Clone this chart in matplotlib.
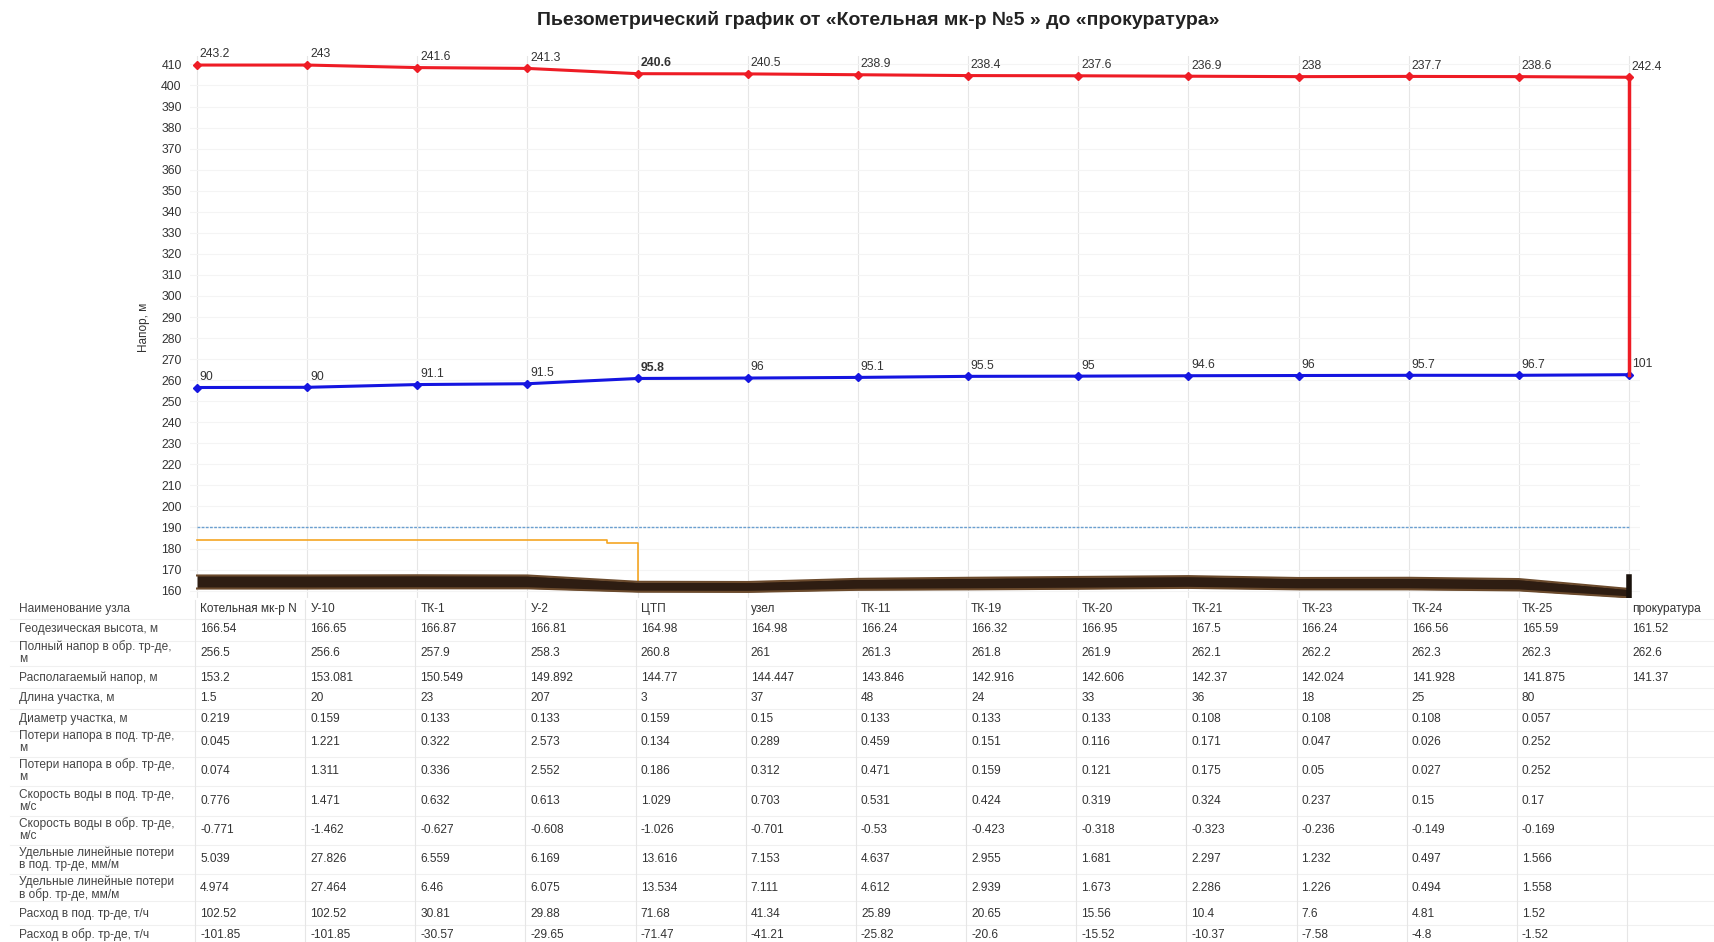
import matplotlib
matplotlib.use('Agg')
import matplotlib.pyplot as plt
from matplotlib.lines import Line2D

plt.rcParams['font.family'] = ['Liberation Sans', 'DejaVu Sans']

# узлы
nodes = ['Котельная мк-р N', 'У-10', 'ТК-1', 'У-2', 'ЦТП', 'узел', 'ТК-11', 'ТК-19',
         'ТК-20', 'ТК-21', 'ТК-23', 'ТК-24', 'ТК-25', 'прокуратура']

# напор в подающем (линия) и подписи давления
head_supply = [409.7, 409.7, 408.5, 408.1, 405.6, 405.5, 405.1, 404.7, 404.6, 404.4,
               404.2, 404.3, 404.2, 403.9]
press_supply = ['243.2', '243', '241.6', '241.3', '240.6', '240.5', '238.9', '238.4',
                '237.6', '236.9', '238', '237.7', '238.6', '242.4']

# обратный
head_return = [256.5, 256.6, 257.9, 258.3, 260.8, 261, 261.3, 261.8, 261.9, 262.1,
               262.2, 262.3, 262.3, 262.6]
press_return = ['90', '90', '91.1', '91.5', '95.8', '96', '95.1', '95.5', '95', '94.6',
                '96', '95.7', '96.7', '101']

geod = [166.54, 166.65, 166.87, 166.81, 164.98, 164.98, 166.24, 166.32, 166.95, 167.5,
        166.24, 166.56, 165.59, 161.52]
ground_top = [167.2, 167.2, 167.3, 167.2, 164.2, 164.1, 165.6, 166.1, 166.5, 166.9,
              166.0, 166.1, 165.5, 160.8]
ground_bot = [161.0, 161.0, 161.1, 161.1, 159.5, 159.4, 160.4, 160.6, 160.9, 161.3,
              160.6, 160.6, 160.1, 156.8]
stub_x = [13, 13]
stub_y = [157.5, 166.5]

# оранжевая линия
orange_x = [0, 3.72, 3.72, 4, 4]
orange_y = [184.2, 184.2, 182.6, 182.6, 163.5]

line_190 = [190, 190]
line_190_x = [0, 13]

avail = ['153.2', '153.081', '150.549', '149.892', '144.77', '144.447', '143.846', '142.916',
         '142.606', '142.37', '142.024', '141.928', '141.875', '141.37']
length = ['1.5', '20', '23', '207', '3', '37', '48', '24', '33', '36', '18', '25', '80', '']
diam = ['0.219', '0.159', '0.133', '0.133', '0.159', '0.15', '0.133', '0.133', '0.133',
        '0.108', '0.108', '0.108', '0.057', '']
loss_s = ['0.045', '1.221', '0.322', '2.573', '0.134', '0.289', '0.459', '0.151', '0.116',
          '0.171', '0.047', '0.026', '0.252', '']
loss_r = ['0.074', '1.311', '0.336', '2.552', '0.186', '0.312', '0.471', '0.159', '0.121',
          '0.175', '0.05', '0.027', '0.252', '']
vel_s = ['0.776', '1.471', '0.632', '0.613', '1.029', '0.703', '0.531', '0.424', '0.319',
         '0.324', '0.237', '0.15', '0.17', '']
vel_r = ['-0.771', '-1.462', '-0.627', '-0.608', '-1.026', '-0.701', '-0.53', '-0.423',
         '-0.318', '-0.323', '-0.236', '-0.149', '-0.169', '']
spec_s = ['5.039', '27.826', '6.559', '6.169', '13.616', '7.153', '4.637', '2.955', '1.681',
          '2.297', '1.232', '0.497', '1.566', '']
spec_r = ['4.974', '27.464', '6.46', '6.075', '13.534', '7.111', '4.612', '2.939', '1.673',
          '2.286', '1.226', '0.494', '1.558', '']
flow_s = ['102.52', '102.52', '30.81', '29.88', '71.68', '41.34', '25.89', '20.65', '15.56',
          '10.4', '7.6', '4.81', '1.52', '']
flow_r = ['-101.85', '-101.85', '-30.57', '-29.65', '-71.47', '-41.21', '-25.82', '-20.6',
          '-15.52', '-10.37', '-7.58', '-4.8', '-1.52', '']

row_labels = ['Наименование узла', 'Геодезическая высота, м', 'Полный напор в обр. тр-де,\nм',
              'Располагаемый напор, м', 'Длина участка, м', 'Диаметр участка, м',
              'Потери напора в под. тр-де,\nм', 'Потери напора в обр. тр-де,\nм',
              'Скорость воды в под. тр-де,\nм/с', 'Скорость воды в обр. тр-де,\nм/с',
              'Удельные линейные потери\nв под. тр-де, мм/м',
              'Удельные линейные потери\nв обр. тр-де, мм/м',
              'Расход в под. тр-де, т/ч', 'Расход в обр. тр-де, т/ч']
rows = [nodes, [f'{v:g}' for v in geod], [f'{v:g}' for v in head_return], avail, length,
        diam, loss_s, loss_r, vel_s, vel_r, spec_s, spec_r, flow_s, flow_r]
row_y = [609, 629, 653, 678, 698, 719, 742, 771, 801, 830, 859, 888, 914, 935]

W, H = 1715, 942
fig = plt.figure(figsize=(W / 100, H / 100), dpi=100)
ax = fig.add_axes([190 / W, 1 - 598 / H, 1450 / W, (598 - 56) / H])

x = list(range(len(nodes)))

ax.plot(orange_x, orange_y, color='#f5a623', lw=1.2, zorder=2)
ax.plot(line_190_x, line_190, color='#6a9fd0', lw=1.0, ls=(0, (2, 1)), zorder=2)

ax.fill_between(x, ground_bot, ground_top, color='#2e1d12', zorder=3, linewidth=0)
ax.plot(x, ground_top, color='#6b4a2c', lw=1.5, zorder=3)
ax.plot(x, ground_bot, color='#6b4a2c', lw=1.5, zorder=3)
ax.plot(stub_x, stub_y, color='#1a120c', lw=4, zorder=3)

ax.plot(x, head_supply, color='#ee1c25', lw=2.2, marker='D', ms=4.5, zorder=4)
ax.plot(x, head_return, color='#1515e0', lw=2.2, marker='D', ms=4.5, zorder=4)
ax.plot([x[-1], x[-1]], [head_supply[-1], head_return[-1]], color='#ee1c25', lw=2.5, zorder=4)

for i in x:
    w = 'bold' if nodes[i] == 'ЦТП' else 'normal'
    ax.annotate(press_supply[i], (i, head_supply[i]), xytext=(2, 5.5), textcoords='offset points',
                fontsize=8.8, color='#333333', fontweight=w)
    ax.annotate(press_return[i], (i, head_return[i]), xytext=(2, 5.5), textcoords='offset points',
                fontsize=8.8, color='#333333', fontweight=w)

ax.set_xlim(-0.064, 13.1)
ax.set_ylim(156.5, 414)
ax.set_yticks(range(160, 411, 10))
ax.set_xticks(x)
ax.set_xticklabels([])
ax.tick_params(length=0, labelsize=8.8, labelcolor='#333333', pad=6)
ax.grid(axis='x', color='#e6e6e6', lw=0.8)
ax.grid(axis='y', color='#f4f4f4', lw=0.8)
ax.set_axisbelow(True)
for s in ax.spines.values():
    s.set_visible(False)
ax.set_ylabel('Напор, м', fontsize=8.5, color='#333333', labelpad=8)

fig.text(0.512, 1 - 20 / H, 'Пьезометрический график от «Котельная мк-р №5 » до «прокуратура»',
         ha='center', va='center', fontsize=14, fontweight='bold', color='#222222')

# таблица под графиком
x_px = lambda v: ax.transData.transform((v, 0))[0] / W
for j, (lab, vals, yy) in enumerate(zip(row_labels, rows, row_y)):
    yf = 1 - yy / H
    fig.text(19 / W, yf, lab, fontsize=8.6, color='#444444', va='center', ha='left', linespacing=1.0)
    for i, v in enumerate(vals):
        fig.text(x_px(i) + 3 / W, yf, v, fontsize=8.6, color='#333333', va='center', ha='left')
    if j < len(row_y) - 1:
        yb = 1 - (yy + row_y[j + 1]) / 2 / H
        fig.add_artist(Line2D([10 / W, 1], [yb, yb], color='#f0f0f0', lw=0.8))
for i in x:
    xf = x_px(i) - 2 / W
    fig.add_artist(Line2D([xf, xf], [1 - 945 / H, 1 - 600 / H], color='#e6e6e6', lw=0.8))

fig.savefig('out.png', dpi=100)
